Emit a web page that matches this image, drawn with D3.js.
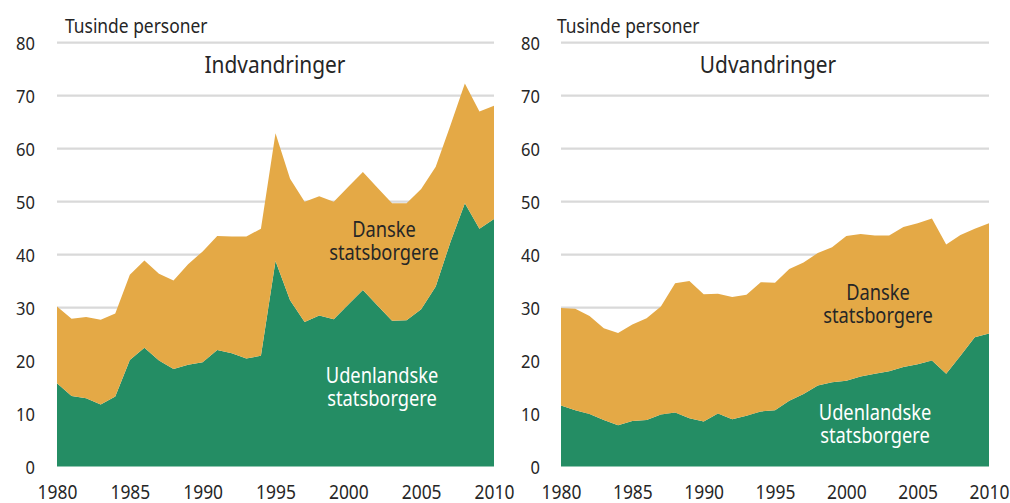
<!DOCTYPE html>
<html>
<head>
<meta charset="utf-8">
<script src="https://cdn.jsdelivr.net/npm/d3@7"></script>
<style>
  html, body { margin: 0; padding: 0; background: #fff; }
  svg { display: block; }
  text { font-family: "Noto Sans", "Open Sans", "DejaVu Sans", sans-serif; fill: #262626; }
</style>
</head>
<body>
<svg id="chart" width="1010" height="503"></svg>
<script>
// ---- data (thousand persons) ----
const years = d3.range(1980, 2011);
const yTicks = [0, 10, 20, 30, 40, 50, 60, 70, 80];
const xTicks = [1980, 1985, 1990, 1995, 2000, 2005, 2010];

// Indvandringer
const indUdenlandske = [15.7,13.3,12.9,11.7,13.2,20.1,22.4,20.0,18.4,19.2,19.7,22.0,21.4,20.4,20.9,38.8,31.4,27.3,28.5,27.8,30.6,33.3,30.4,27.5,27.6,29.7,34.0,42.3,49.7,44.9,46.7];
const indDanske      = [14.5,14.6,15.3,16.0,15.7,16.1,16.5,16.4,16.7,19.0,20.9,21.5,22.0,23.0,24.0,24.1,22.9,22.7,22.5,22.2,22.2,22.3,22.2,22.2,22.1,22.7,22.6,22.0,22.6,22.1,21.4];

// Udvandringer
const udvUdenlandske = [11.5,10.6,9.9,8.8,7.8,8.6,8.8,9.8,10.2,9.1,8.5,10.0,8.9,9.6,10.4,10.6,12.4,13.7,15.3,15.9,16.2,17.0,17.5,18.0,18.8,19.3,20.0,17.5,20.9,24.4,25.1];
const udvDanske      = [18.4,19.2,18.5,17.3,17.4,18.2,19.2,20.4,24.4,25.9,24.0,22.6,23.1,22.8,24.4,24.1,24.9,24.8,25.0,25.5,27.3,26.9,26.1,25.6,26.4,26.6,26.8,24.4,22.8,20.5,20.8];

const unitLabel = "Tusinde personer";
const seriesNames = ["Udenlandske", "Danske"];
const colors = { Udenlandske: "#248d64", Danske: "#e4a946" };

const SX = 0.87; // horizontal condensing of the typeface
const svg = d3.select("#chart");

function panel(opts) {
  const g = svg.append("g");
  const x = d3.scaleLinear().domain([1980, 2010]).range([opts.x0, opts.x1]);
  const y = d3.scaleLinear().domain([0, 80]).range([466.5, 42.7]);

  // gridlines
  g.append("g").selectAll("line").data(yTicks.filter(t => t > 0)).join("line")
    .attr("x1", x(1980)).attr("x2", x(2010))
    .attr("y1", d => y(d)).attr("y2", d => y(d))
    .attr("stroke", "#d9d9d9").attr("stroke-width", 2.2);

  const rows = years.map((yr, i) => ({ year: yr, Udenlandske: opts.uden[i], Danske: opts.dan[i] }));
  const stack = d3.stack().keys(seriesNames)(rows);
  const area = d3.area().x(d => x(d.data.year)).y0(d => y(d[0])).y1(d => y(d[1]));
  g.append("g").selectAll("path").data(stack).join("path")
    .attr("d", area).attr("fill", d => colors[d.key]);

  // y axis labels
  const yAxis = d3.axisLeft(y).tickValues(yTicks).tickSize(0).tickPadding(0);
  const ya = g.append("g").attr("transform", `translate(${opts.yLabelX},0)`).call(yAxis);
  ya.select(".domain").remove();
  ya.selectAll("text").attr("font-size", 19).attr("font-family", null).attr("fill", "#262626")
    .attr("dy", "0.36em").attr("transform", `scale(${SX},1)`);

  // x axis labels
  const xAxis = d3.axisBottom(x).tickValues(xTicks).tickFormat(d3.format("d")).tickSize(0).tickPadding(0);
  const xa = g.append("g").attr("transform", `translate(0,485)`).call(xAxis);
  xa.select(".domain").remove();
  xa.selectAll("text").attr("font-size", 20).attr("font-family", null).attr("fill", "#262626")
    .attr("dy", "0.72em").attr("transform", `scale(${SX},1)`);

  const txt = (tx, ty, size, anchor, str) =>
    g.append("g").attr("transform", `translate(${tx},${ty}) scale(${SX},1)`)
      .append("text").attr("font-size", size).attr("text-anchor", anchor).text(str);

  // unit label
  txt(opts.unitX, 33, 20, "start", unitLabel);
  // title
  txt(opts.titleX, 73, 24, "middle", opts.title);

  // series labels
  const lab = (cx, ys, lines, fill) => {
    const t = g.append("g").attr("transform", `translate(${cx},0) scale(${SX},1)`)
      .append("text").attr("text-anchor", "middle").attr("font-size", 21).style("fill", fill);
    lines.forEach((l, i) => t.append("tspan").attr("x", 0).attr("y", ys[i]).text(l));
  };
  lab(opts.danX, opts.danY, ["Danske", "statsborgere"], "#262626");
  lab(opts.udX, opts.udY, ["Udenlandske", "statsborgere"], "#ffffff");
}

panel({ x0: 57, x1: 494, yLabelX: 35, uden: indUdenlandske, dan: indDanske,
  unitX: 65, titleX: 275, title: "Indvandringer",
  danX: 384, danY: [237, 260], udX: 382, udY: [383, 406] });
panel({ x0: 561, x1: 989, yLabelX: 540, uden: udvUdenlandske, dan: udvDanske,
  unitX: 557, titleX: 768, title: "Udvandringer",
  danX: 878, danY: [300, 323], udX: 875, udY: [420, 443] });
</script>
</body>
</html>
